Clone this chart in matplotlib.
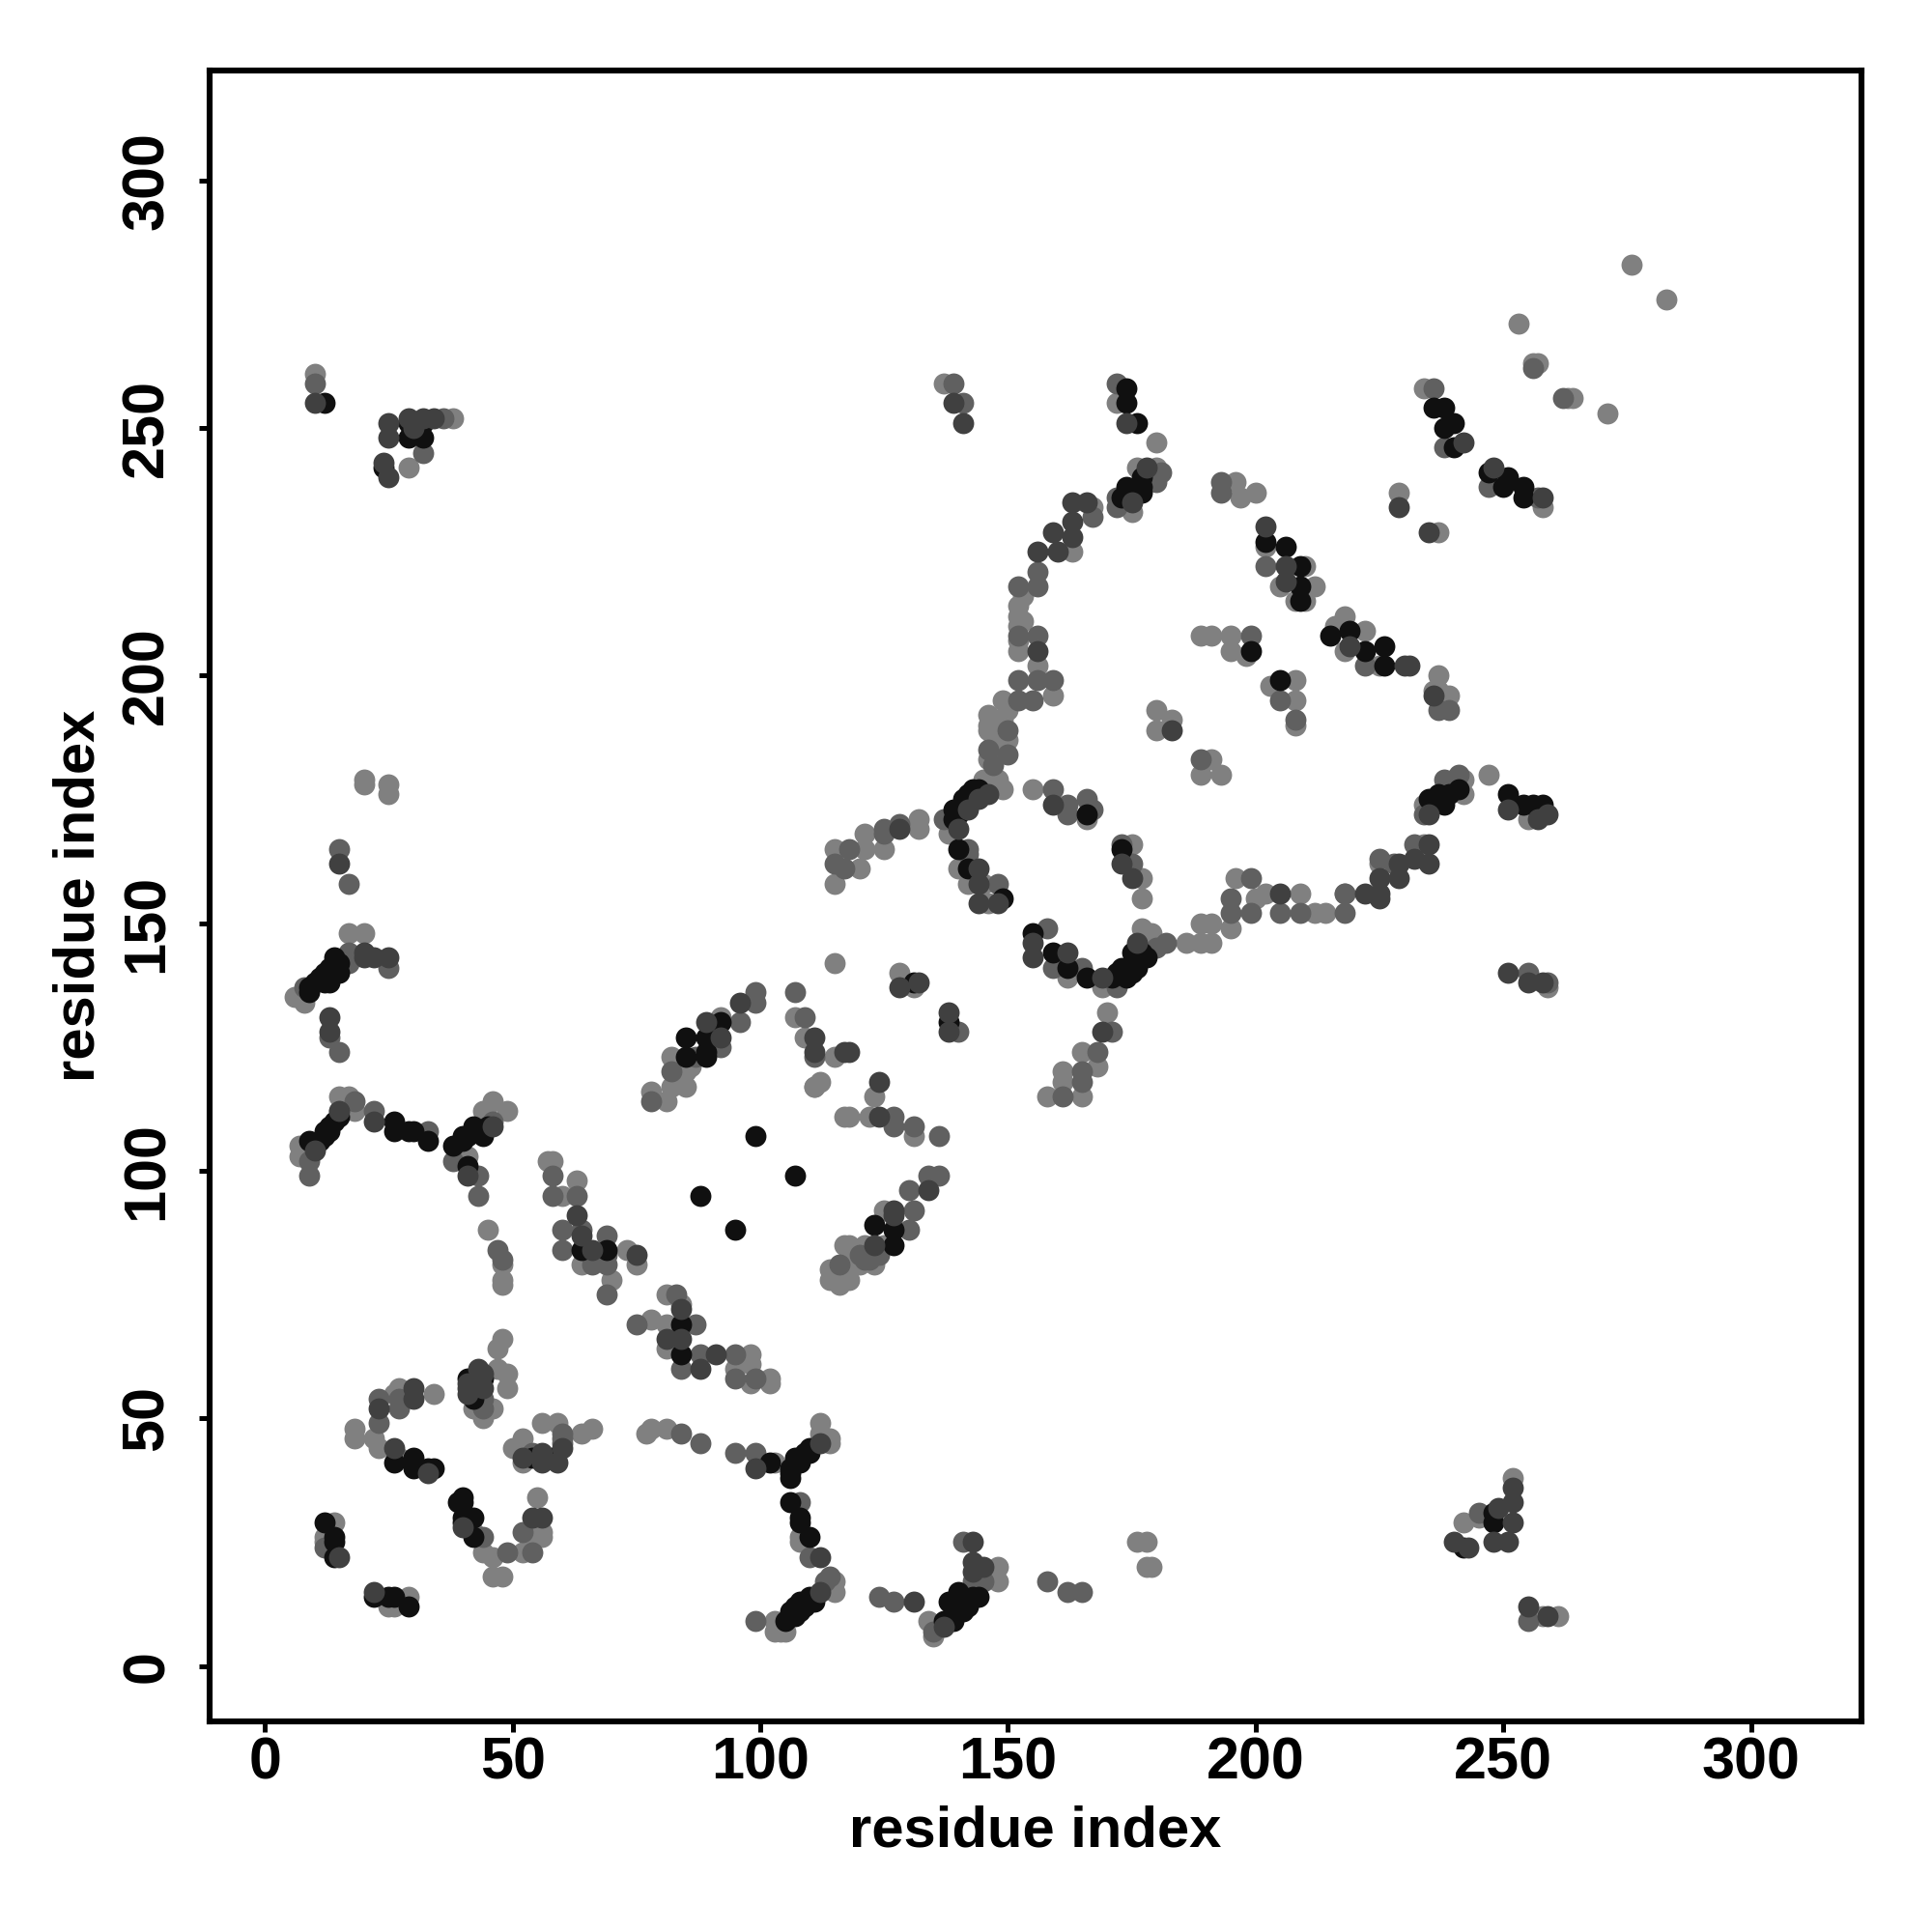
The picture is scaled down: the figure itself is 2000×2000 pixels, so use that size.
import matplotlib
matplotlib.use("Agg")
import matplotlib.pyplot as plt
import numpy as np

# contacts as (residue, residue), split by grey level
light = [(14,29),(12,26),(12,25),(25,12),(26,12),(29,14),(42,27),(44,23),(46,22),(46,18),(48,18),(52,23),(55,34),
 (56,26),(54,26),(56,27),(23,44),(22,46),(18,48),(18,46),(27,42),(30,41),(26,55),(27,56),(34,55),(47,60),(49,59),(49,56),
 (42,52),(44,50),(46,52),(47,64),(48,66),(56,49),(59,49),(52,46),(50,44),(52,41),(64,47),(66,48),(77,47),(78,48),(81,48),
 (103,41),(112,49),(112,47),(114,46),(114,45),(108,26),(108,25),(103,9),(103,7),(104,7),(105,7),(115,15),(115,17),
 (45,88),(48,81),(48,78),(48,77),(64,81),(70,78),(73,84),(75,81),(81,75),(84,73),(78,70),(81,69),(81,64),(98,63),(98,61),
 (95,60),(98,57),(102,58),(102,57),(20,178),(20,179),(25,178),(25,176),(17,148),(20,148),(6,135),(8,134),(7,105),(7,103),
 (15,115),(17,115),(18,112),(15,112),(41,103),(44,112),(46,114),(49,112),(57,102),(58,102),(60,95),(63,98),
 (78,116),(81,114),(82,117),(85,117),(82,123),(85,120),(86,121),(92,131),(107,131),(109,127),(115,123),(111,117),(112,118),
 (117,111),(115,158),(115,165),(120,161),(121,165),(125,165),(121,168),(132,171),(132,169),(138,168),(149,177),(148,179),
 (145,179),(147,186),(146,189),(155,177),(166,171),(140,161),(142,158),(145,158),(146,154),(175,166),(177,159),(177,155),
 (191,183),(189,180),(193,180),(162,139),(169,137),(177,149),(179,148),(186,146),(189,150),(189,146),(191,146),(191,150),
 (195,149),(196,159),(200,155),(202,156),(212,152),(214,152),(170,132),(165,124),(168,121),(161,120),(161,118),(158,115),
 (165,115),(115,142),(128,140),(131,137),(111,117),(123,115),(118,111),(122,111),(131,107),(125,92),(117,85),(121,85),
 (125,85),(123,81),(120,81),(117,81),(116,77),(114,78),(135,6),(134,9),(148,20),(148,17),(176,25),(178,25),(178,20),(179,20),
 (242,29),(245,30),(252,38),(258,10),(261,10),(137,259),(172,255),(180,247),(176,242),(180,242),(175,233),(196,239),(197,236),
 (200,237),(229,237),(237,229),(234,258),(276,283),(283,276),(253,271),(256,263),(257,263),(263,256),(264,256),(271,253),
 (258,234),(237,200),(237,197),(236,197),(239,196),(218,212),(216,210),(222,209),(218,205),(225,202),(202,226),(210,222),
 (205,218),(212,218),(210,215),(208,215),(203,198),(208,199),(208,195),(208,190),(191,208),(189,208),(195,208),(195,205),
 (198,204),(180,193),(183,191),(180,189),(150,193),(149,195),(159,196),(156,202),(152,205),(152,214),(163,225),(167,234),
 (234,166),(234,174),(240,179),(242,179),(242,176),(247,180),(255,171),(259,137),(218,156),(209,156),(225,162),
 (10,261),(29,242),(38,252),(146,190),(147,188),(148,184),(148,186),(150,187),(149,191),(147,191),(146,183),(152,210),
 (152,212),(153,216),(152,207),(118,85),(120,84),(119,83),(115,78),(118,78),(114,80),(153,211),(146,192),(147,178)]

mid = [(12,24),(23,49),(23,54),(27,54),(27,52),(44,26),(49,23),(54,23),(52,27),(44,52),(44,54),(54,43),(60,46),(60,45),(60,47),
 (84,47),(88,45),(95,43),(99,43),(108,33),(110,22),(99,9),(113,17),(114,18),(47,84),(48,82),(60,88),(64,88),(60,84),(69,87),
 (69,83),(66,81),(69,81),(69,75),(83,75),(75,69),(87,69),(88,63),(95,63),(84,60),(95,58),(99,58),(15,165),(17,158),(8,137),
 (17,144),(17,142),(25,141),(13,127),(15,124),(9,102),(9,99),(18,114),(22,112),(33,108),(38,102),(46,110),(43,99),(43,95),
 (58,99),(58,95),(63,95),(78,114),(82,120),(87,123),(92,125),(99,136),(99,134),(96,130),(107,136),(109,131),(111,123),
 (115,162),(118,165),(117,161),(125,169),(125,168),(128,170),(137,171),(147,182),(150,189),(159,177),(162,174),(162,172),
 (166,175),(167,173),(142,165),(142,164),(148,158),(173,166),(175,162),(158,149),(159,141),(165,141),(172,137),(180,145),
 (182,146),(195,152),(195,155),(199,159),(199,152),(205,152),(209,152),(218,152),(218,156),(225,163),(171,128),(168,124),
 (165,120),(165,118),(161,115),(140,128),(127,111),(127,109),(131,109),(136,107),(134,99),(136,99),(130,96),(131,92),(130,88),
 (116,81),(124,14),(127,13),(135,7),(141,25),(145,17),(143,17),(158,17),(162,15),(165,15),(245,31),(255,9),(139,259),(141,255),
 (172,259),(181,241),(180,239),(172,236),(172,234),(193,239),(193,237),(236,258),(238,246),(256,262),(262,256),(247,238),
 (257,236),(237,193),(239,193),(222,202),(202,222),(205,195),(208,191),(199,208),(189,183),(152,195),(155,195),(152,199),
 (159,199),(156,199),(152,208),(156,208),(152,218),(156,218),(156,221),(167,232),(228,162),(232,166),(234,172),(238,179),
 (241,180),(259,138),(255,140),(10,259),(32,245),(36,252),(146,185),(150,184),(121,82),(122,82),(124,83),(120,83)]

dark = [(15,22),(22,15),(33,39),(23,52),(30,56),(30,54),(43,60),(44,56),(26,44),(40,28),(54,30),(56,30),(56,43),(60,44),
 (59,41),(56,41),(52,42),(99,40),(112,45),(112,22),(112,15),(63,91),(66,84),(64,87),(75,83),(84,72),(81,66),(84,66),(88,60),
 (91,63),(15,162),(20,144),(20,143),(22,143),(25,143),(13,131),(13,128),(10,104),(15,112),(22,110),(46,109),(41,99),(89,130),
 (96,134),(92,127),(111,127),(111,124),(117,124),(124,118),(124,111),(128,169),(128,137),(132,138),(138,132),(138,128),
 (142,173),(144,175),(146,176),(140,169),(159,174),(144,161),(144,158),(144,154),(148,154),(173,162),(175,159),(155,146),
 (155,143),(162,144),(169,139),(176,146),(205,156),(222,156),(225,156),(225,159),(169,128),(118,124),(134,96),(127,92),
 (127,91),(123,85),(131,13),(137,8),(143,25),(143,21),(145,20),(143,19),(240,25),(243,24),(248,25),(251,25),(249,32),(252,29),
 (252,33),(252,36),(255,12),(259,10),(139,255),(141,251),(174,251),(178,242),(175,235),(229,234),(235,229),(242,247),(248,242),
 (258,236),(236,196),(219,206),(230,202),(231,202),(202,230),(206,222),(206,219),(183,189),(156,205),(156,225),(160,225),
 (159,229),(163,228),(163,231),(163,235),(166,235),(225,155),(229,162),(229,159),(235,166),(232,163),(235,162),(235,172),
 (251,173),(259,172),(257,171),(251,140),(255,138),(258,138),
 (10,255),(25,251),(25,248),(24,243),(25,240),(34,252),(30,250),(41,57),(41,56),(41,55),(43,57),(44,59),(29,252),(32,252)]

black = [(12,29),(14,25),(14,26),(14,22),(22,14),(26,14),(25,14),(29,12),(40,34),(40,33),(39,33),(40,29),(40,30),(42,30),(42,26),
 (26,41),(30,42),(30,40),(34,40),(33,40),(41,58),(42,54),(44,58),(58,42),(54,42),(102,41),(106,38),
 (106,40),(107,42),(108,42),(109,43),(110,44),(106,33),(108,29),(108,30),(110,26),(105,9),(106,10),(107,10),(106,11),(108,13),
 (109,12),(111,13),(110,14),(64,84),(69,84),(84,69),(84,63),(9,136),(10,138),(12,140),(13,138),(14,143),(15,140),(9,106),(12,107),
 (13,108),(14,110),(26,110),(26,108),(30,108),(29,108),(33,106),(38,105),(41,101),(40,107),(42,109),(44,107),(88,95),(99,107),
 (107,99),(95,88),(85,123),(89,123),(85,127),(89,127),(89,124),(92,130),(123,89),(127,88),(127,85),(139,171),(139,173),(141,175),
 (143,177),(140,165),(142,161),(149,155),(166,172),(173,165),(155,148),(159,144),(162,141),(166,139),(171,139),(173,141),(174,139),
 (175,144),(176,141),(178,143),(131,138),(138,130),(137,9),(139,9),(138,13),(140,15),(141,11),(143,14),(248,31),(248,29),(242,24),
 (174,258),(174,255),(176,251),(177,240),(177,238),(174,238),(177,237),(173,236),(236,254),(238,254),(238,250),(240,251),(240,246),
 (247,241),(251,240),(250,238),(254,238),(254,236),(215,208),(219,209),(222,205),(226,206),(226,202),(202,227),(206,226),(209,222),
 (209,218),(209,215),(205,199),(199,205),(235,175),(237,176),(238,174),(239,176),(241,177),(251,176),(254,174),(256,174),(258,174),
 (12,255),(24,242),(29,251),(29,248),(32,251),(32,248),(10,105),(11,106),(12,108),(13,109),(15,111),(40,106),(41,107),(43,108),
 (45,109),(9,137),(11,139),(12,138),(13,141),(14,141),(15,142),(107,12),(108,11),(110,13),(106,39),(108,41),(110,43),(139,11),
 (141,13),(142,12),(144,14),(140,172),(141,173),(142,176),(144,177),(172,140),(174,141),(175,142),(177,144),(175,140)]

ticks = [0, 50, 100, 150, 200, 250, 300]

plt.rcParams['font.family'] = ['Liberation Sans', 'DejaVu Sans']
plt.rcParams['font.weight'] = 'bold'

fig = plt.figure(figsize=(10, 10), dpi=200)
ax = fig.add_axes([0.1084, 0.109, 0.8553, 0.8546])

# black goes under the dark greys, that is how the clusters look in the reference
for pts, col in [(light, "#808080"), (mid, "#606060"), (black, "#101010"), (dark, "#404040")]:
    arr = np.array(pts)
    ax.scatter(arr[:, 0], arr[:, 1], s=62, color=col, linewidths=0, zorder=2)

ax.set_xlim(-11.2, 322.4)
ax.set_ylim(-11.2, 322.2)
ax.set_xticks(ticks)
ax.set_yticks(ticks)
ax.tick_params(axis='x', length=4, width=1.8, labelsize=22, pad=1.5)
ax.tick_params(axis='y', length=4, width=1.8, labelsize=22, pad=8.6)
for lab in ax.get_yticklabels():
    lab.set_rotation(90)
    lab.set_va('center')
for sp in ax.spines.values():
    sp.set_linewidth(2.2)

ax.set_xlabel("residue index", fontsize=21.5, fontweight='bold', labelpad=5)
ax.set_ylabel("residue index", fontsize=21.5, fontweight='bold', labelpad=5.5)

fig.savefig("out.png", dpi=200)
